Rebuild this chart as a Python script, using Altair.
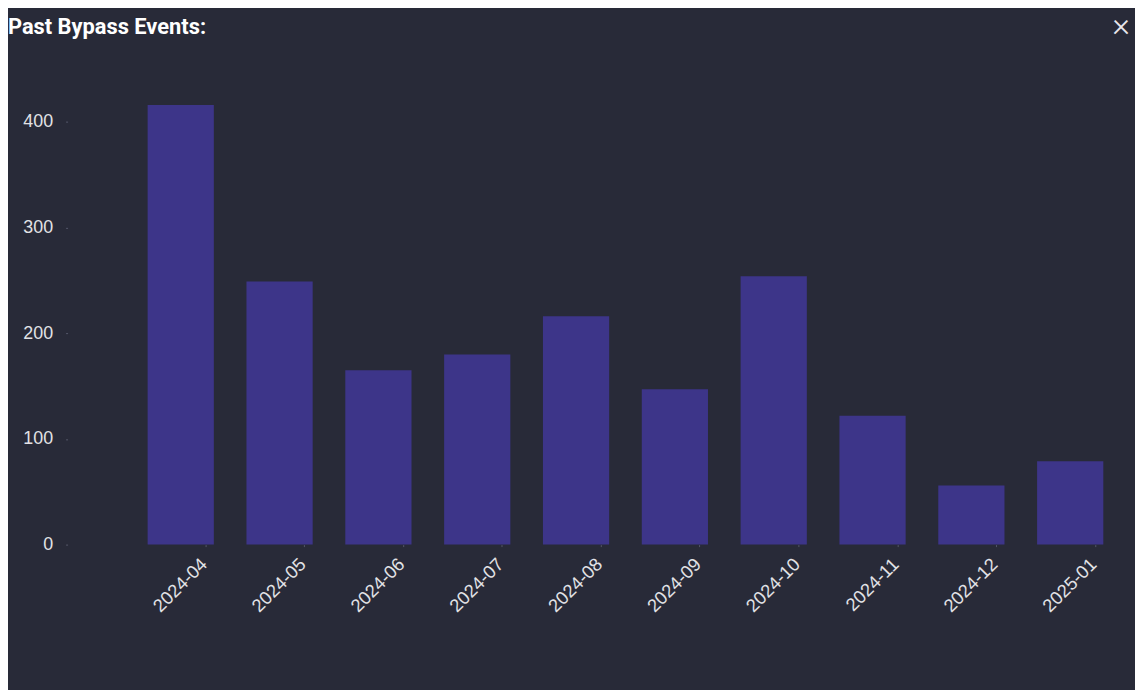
import altair as alt
import pandas as pd

months = ["2024-04", "2024-05", "2024-06", "2024-07", "2024-08",
          "2024-09", "2024-10", "2024-11", "2024-12", "2025-01"]
events = [416, 249, 165, 180, 216, 147, 254, 122, 56, 79]

df = pd.DataFrame({"month": months, "events": events})

BG = "#282a38"
BAR = "#3d3589"
LABEL = "#e2e2e6"

bars = alt.Chart(df).mark_bar(color=BAR).encode(
    x=alt.X("month:N", sort=months, title=None,
            scale=alt.Scale(paddingInner=0.33, paddingOuter=0.5, align=0.81),
            axis=alt.Axis(labelAngle=-45, labelAlign="right", labelBaseline="top",
                          labelFontSize=18.5, labelFont="Liberation Sans", labelColor=LABEL,
                          labelPadding=8, labelOffset=17, tickSize=2, tickColor="#55586a",
                          domain=False, bandPosition=0.88)),
    y=alt.Y("events:Q", title=None,
            scale=alt.Scale(domain=[0, 420], nice=False),
            axis=alt.Axis(values=[0, 100, 200, 300, 400], labelFontSize=18,
                          labelFont="Liberation Sans", labelColor=LABEL,
                          labelPadding=13, tickSize=2, tickColor="#55586a",
                          domain=False, grid=False)),
)

close = alt.Chart(pd.DataFrame({"t": ["×"]})).mark_text(
    fontSize=34, font="Roboto", fontWeight=300, color="#e8e8ec",
    align="center", baseline="middle"
).encode(x=alt.value(1061), y=alt.value(-75), text="t:N")

chart = alt.layer(bars, close).properties(
    width=1062, height=447,
    background=BG,
    padding={"left": 60, "top": 91, "right": 13, "bottom": 144},
    autosize=alt.AutoSizeParams(type="none"),
    title=alt.TitleParams("Past Bypass Events:", anchor="start", font="Roboto",
                          fontSize=22, fontWeight="bold", color="#ffffff",
                          baseline="alphabetic", offset=-47, dx=-15),
).configure_view(stroke=None)

chart.save("out.html", embed_options={"renderer": "svg", "actions": False})
